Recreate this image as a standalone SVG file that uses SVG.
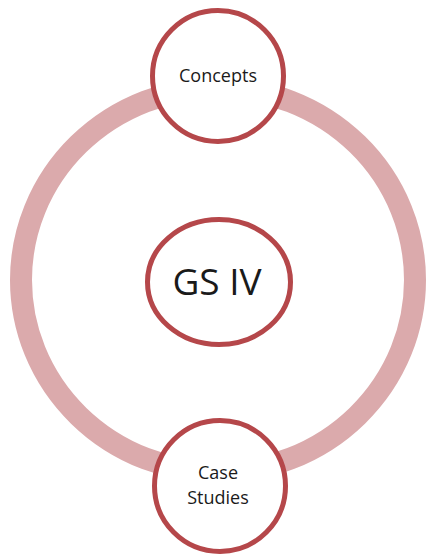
<svg xmlns="http://www.w3.org/2000/svg" width="426" height="555" viewBox="0 0 426 555">
<style>
.node{fill:#ffffff;stroke:#b5474a;stroke-width:5}
.lbl{font-family:"Open Sans","Liberation Sans",sans-serif;fill:#1a1a1a;text-anchor:middle}
</style>
<rect width="426" height="555" fill="#ffffff"/>
<g id="connectors">
<ellipse cx="218" cy="280" rx="197" ry="192" fill="none" stroke="#dbaaac" stroke-width="22"/>
</g>
<g id="concepts">
<circle class="node" cx="218" cy="76" r="65.5"/>
<text class="lbl" x="218" y="82" font-size="18">Concepts</text>
</g>
<g id="gs-iv">
<ellipse class="node" cx="219" cy="282" rx="71.5" ry="62.5"/>
<text class="lbl" x="217" y="295" font-size="37">GS IV</text>
</g>
<g id="case-studies">
<circle class="node" cx="220" cy="486" r="65.5"/>
<text class="lbl" x="218" y="479" font-size="18">Case</text>
<text class="lbl" x="218" y="504" font-size="18">Studies</text>
</g>
</svg>
